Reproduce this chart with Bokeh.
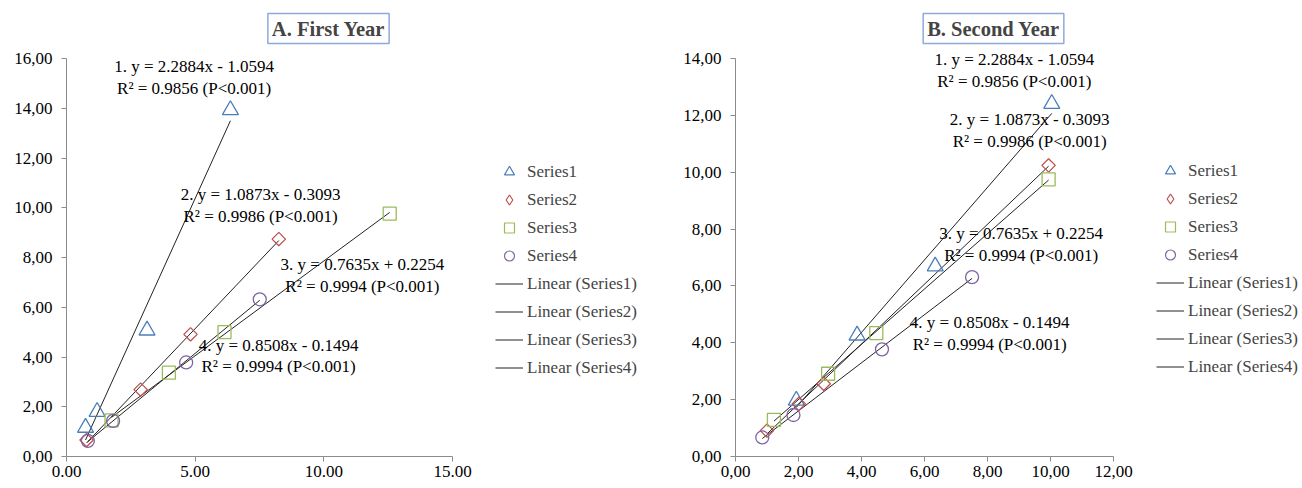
import numpy as np
from bokeh.plotting import figure
from bokeh.models import (Range1d, Legend, LegendItem, Label, FixedTicker,
                          ColumnDataSource)
from bokeh.layouts import row
from bokeh.embed import file_html
from bokeh.resources import INLINE
from bokeh.core.properties import value

# ---------------- data: A. First Year ----------------
a_s1_x = [0.74, 1.19, 3.13, 6.37]
a_s1_y = [1.16, 1.80, 5.07, 13.93]
a_s2_x = [0.78, 2.88, 4.82, 8.25]
a_s2_y = [0.66, 2.69, 4.91, 8.74]
a_s3_x = [1.75, 3.98, 6.14, 12.56]
a_s3_y = [1.45, 3.37, 5.00, 9.76]
a_s4_x = [0.83, 1.81, 4.65, 7.51]
a_s4_y = [0.63, 1.43, 3.78, 6.32]

# ---------------- data: B. Second Year ----------------
b_s1_x = [1.93, 3.86, 6.34, 10.04]
b_s1_y = [1.97, 4.26, 6.69, 12.41]
b_s2_x = [1.00, 2.01, 2.80, 9.94]
b_s2_y = [0.91, 1.85, 2.56, 10.24]
b_s3_x = [1.22, 2.94, 4.47, 9.94]
b_s3_y = [1.29, 2.91, 4.34, 9.75]
b_s4_x = [0.85, 1.84, 4.65, 7.51]
b_s4_y = [0.67, 1.46, 3.77, 6.31]

series_names = ["Series1", "Series2", "Series3", "Series4"]
trend_names = ["Linear (Series1)", "Linear (Series2)", "Linear (Series3)", "Linear (Series4)"]

equations = [
    "1. y = 2.2884x - 1.0594\nR\u00b2 = 0.9856 (P<0.001)",
    "2. y = 1.0873x - 0.3093\nR\u00b2 = 0.9986 (P<0.001)",
    "3. y = 0.7635x + 0.2254\nR\u00b2 = 0.9994 (P<0.001)",
    "4. y = 0.8508x - 0.1494\nR\u00b2 = 0.9994 (P<0.001)",
]
a_eq_x = [4.96, 7.54, 11.50, 8.24]
a_eq_y = [15.24, 10.10, 7.26, 4.04]
b_eq_x = [8.85, 9.34, 9.07, 8.07]
b_eq_y = [13.58, 11.46, 7.45, 4.32]

a_x_ticks = [0, 5, 10, 15]
a_x_labels = ["0.00", "5.00", "10.00", "15.00"]
a_y_ticks = [0, 2, 4, 6, 8, 10, 12, 14, 16]
a_y_labels = ["0,00", "2,00", "4,00", "6,00", "8,00", "10,00", "12,00", "14,00", "16,00"]
b_x_ticks = [0, 2, 4, 6, 8, 10, 12]
b_x_labels = ["0,00", "2,00", "4,00", "6,00", "8,00", "10,00", "12,00"]
b_y_ticks = [0, 2, 4, 6, 8, 10, 12, 14]
b_y_labels = ["0,00", "2,00", "4,00", "6,00", "8,00", "10,00", "12,00", "14,00"]

FONT = "Liberation Serif"
AXIS_COLOR = "#8c8c8c"
markers = ["triangle", "square", "square", "circle"]
legend_markers = ["triangle", "diamond", "square", "circle"]
angles = [0, np.pi / 4, 0, 0]
sizes = [16, 9.5, 13, 13]
colors = ["#4a7ebb", "#c0504d", "#9bbb59", "#8064a2"]

FIG_W, FIG_H = 651, 488
LEG_ROW, LEG_GAP = 25, 3


def make_chart(title, xs, ys, xmax, ymax, xt, xl, yt, yl, eq_x, eq_y,
               left, bottom, top, x_standoff, title_c, legend_tl):
    frame_w = FIG_W - left
    frame_h = FIG_H - bottom
    # pixel length of the axes: x axis spans to a fixed right pixel, y axis up to `top`
    ax_h = frame_h - top
    ax_w = legend_tl[2] - left
    p = figure(width=FIG_W, height=FIG_H,
               x_range=Range1d(0, xmax * frame_w / ax_w),
               y_range=Range1d(0, ymax * frame_h / ax_h),
               output_backend="svg", toolbar_location=None,
               min_border_left=left, min_border_right=0,
               min_border_top=0, min_border_bottom=bottom)
    p.outline_line_color = None
    p.grid.visible = False
    p.background_fill_color = "white"
    p.border_fill_color = "white"

    for ax, ticks, labels, standoff, mx in ((p.xaxis[0], xt, xl, x_standoff, xmax),
                                            (p.yaxis[0], yt, yl, 9, ymax)):
        ax.ticker = FixedTicker(ticks=ticks)
        ax.bounds = (0, mx)
        ax.major_label_overrides = {t: l for t, l in zip(ticks, labels)}
        ax.axis_line_color = AXIS_COLOR
        ax.major_tick_line_color = AXIS_COLOR
        ax.major_tick_out = 5
        ax.major_tick_in = 0
        ax.minor_tick_line_color = None
        ax.major_label_text_font = FONT
        ax.major_label_text_font_size = "17px"
        ax.major_label_text_color = "black"
        ax.major_label_standoff = standoff

    legend_r = []
    line_r = []
    for i in range(4):
        x = np.array(xs[i])
        y = np.array(ys[i])
        k, b = np.polyfit(x, y, 1)
        lx = [x.min(), x.max()]
        ly = [k * x.min() + b, k * x.max() + b]
        lr = p.line(lx, ly, line_color="#222222", line_width=1)
        line_r.append(lr)
    for i in range(4):
        src_i = ColumnDataSource(dict(x=xs[i], y=ys[i]))
        p.scatter("x", "y", source=src_i, marker=markers[i], size=sizes[i],
                  angle=angles[i], line_color=colors[i], fill_color=None, line_width=1.3)
        # zero-size copy of the same points: invisible in the plot, it only
        # provides the (unrotated) legend swatch, e.g. the Series2 diamond
        gr = p.scatter("x", "y", source=src_i, marker=legend_markers[i], size=0,
                       line_color=colors[i], fill_color=None, line_width=1.2)
        legend_r.append(gr)

    src = ColumnDataSource(dict(x=eq_x, y=eq_y, t=equations))
    p.text(x="x", y="y", text="t", source=src, text_font=value(FONT),
           text_font_size="17px", text_align="center", text_baseline="middle",
           text_line_height=1.15, text_color="black")

    items = [LegendItem(label=series_names[i], renderers=[legend_r[i]]) for i in range(4)]
    items += [LegendItem(label=trend_names[i], renderers=[line_r[i]]) for i in range(4)]
    leg_h = 8 * LEG_ROW + 7 * LEG_GAP
    leg_x = legend_tl[0] - left
    leg_y = frame_h - legend_tl[1] - leg_h
    legend = Legend(items=items, location=(leg_x, leg_y))
    legend.label_text_font = FONT
    legend.label_text_font_size = "17px"
    legend.border_line_color = None
    legend.background_fill_alpha = 0
    legend.glyph_width = 28
    legend.glyph_height = LEG_ROW
    legend.label_height = LEG_ROW
    legend.label_standoff = 4
    legend.spacing = LEG_GAP
    legend.padding = 0
    legend.margin = 0
    p.add_layout(legend)

    lab = Label(x=title_c[0] - left, y=frame_h - title_c[1],
                x_units="screen", y_units="screen",
                text=title, text_font=FONT, text_font_size="20.5px",
                text_font_style="bold", text_align="center", text_baseline="middle",
                border_line_color="#8eaadb", border_line_width=1.5,
                background_fill_color="white", padding=4)
    p.add_layout(lab)
    return p


pa = make_chart("A. First Year",
                [a_s1_x, a_s2_x, a_s3_x, a_s4_x], [a_s1_y, a_s2_y, a_s3_y, a_s4_y],
                15, 16, a_x_ticks, a_x_labels, a_y_ticks, a_y_labels,
                a_eq_x, a_eq_y, 66, 32, 58, 4, (328, 28), (495, 159, 452))
pb = make_chart("B. Second Year",
                [b_s1_x, b_s2_x, b_s3_x, b_s4_x], [b_s1_y, b_s2_y, b_s3_y, b_s4_y],
                12, 14, b_x_ticks, b_x_labels, b_y_ticks, b_y_labels,
                b_eq_x, b_eq_y, 84, 32, 58, 4, (342, 28), (505, 158, 462))

layout = row(pa, pb)
open("out.html", "w").write(file_html(layout, INLINE))
